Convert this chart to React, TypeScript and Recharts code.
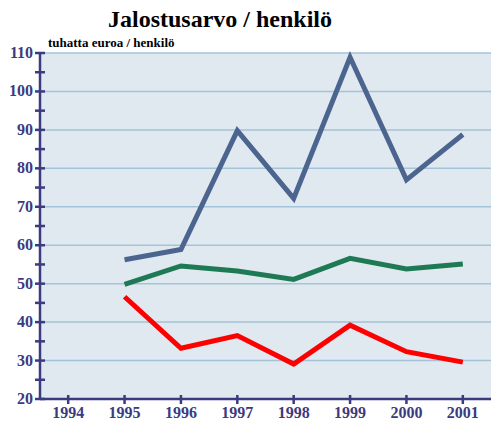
import React from 'react';
import { LineChart, Line, XAxis, YAxis, CartesianGrid } from 'recharts';

// vuodet ja sarjat (luettu kuvasta)
const years = [1995, 1996, 1997, 1998, 1999, 2000, 2001];
const sarjaSininen = [56.2, 58.9, 89.8, 72.2, 108.9, 77.0, 88.8];
const sarjaVihrea = [49.8, 54.6, 53.3, 51.1, 56.6, 53.8, 55.1];
const sarjaPunainen = [46.6, 33.2, 36.5, 29.1, 39.2, 32.3, 29.6];

const xTicks = [1994, 1995, 1996, 1997, 1998, 1999, 2000, 2001];
const yTicks = [20, 25, 30, 35, 40, 45, 50, 55, 60, 65, 70, 75, 80, 85, 90, 95, 100, 105, 110];
const gridValues = [20, 30, 40, 50, 60, 70, 80, 90, 100, 110];

const title = 'Jalostusarvo / henkilö';
const unitLabel = 'tuhatta euroa / henkilö';

const data = years.map((year, i) => ({
  year,
  sininen: sarjaSininen[i],
  vihrea: sarjaVihrea[i],
  punainen: sarjaPunainen[i],
}));

const FONT = "'Liberation Serif', 'Times New Roman', 'DejaVu Serif', serif";
const AXIS = '#3b3b80';
const textStyle = { fontFamily: FONT, fontWeight: 700 };

function YTick(props: any) {
  const { x, y, payload } = props;
  const major = payload.value % 10 === 0;
  return (
    <g>
      <line x1={x - 5} x2={x + 5} y1={y} y2={y} stroke={AXIS} strokeWidth={2.5} />
      {major && (
        <text x={x - 7} y={y} dy={5} textAnchor="end" fill={AXIS}
          style={{ ...textStyle, fontSize: 16 }}>
          {payload.value}
        </text>
      )}
    </g>
  );
}

function XTick(props: any) {
  const { x, y, payload } = props;
  return (
    <g>
      <line x1={x} x2={x} y1={y - 4} y2={y + 5} stroke={AXIS} strokeWidth={2.5} />
      <text x={x} y={y + 19} textAnchor="middle" fill={AXIS}
        style={{ ...textStyle, fontSize: 16 }}>
        {payload.value}
      </text>
    </g>
  );
}

export default function App() {
  return (
    <div style={{ position: 'relative', width: 491, height: 421 }}>
      <style>{'body{margin:0}'}</style>
      <LineChart width={491} height={421} data={data}
        margin={{ top: 53, right: 0, bottom: 0, left: 0 }}>
        <CartesianGrid vertical={false} fill="#e0e8f0" stroke="#a3c3d8"
          strokeWidth={1.5} horizontalValues={gridValues} />
        <XAxis dataKey="year" type="number" domain={[1993.5, 2001.5]} ticks={xTicks}
          height={22} axisLine={{ stroke: AXIS, strokeWidth: 2.5 }} tickLine={false}
          tickSize={0} tickMargin={0} tick={<XTick />} interval={0} />
        <YAxis type="number" domain={[20, 110]} ticks={yTicks} width={40}
          axisLine={{ stroke: AXIS, strokeWidth: 2.5 }} tickLine={false}
          tickSize={0} tickMargin={0} tick={<YTick />} interval={0} />
        <Line dataKey="sininen" type="linear" stroke="#4c658f" strokeWidth={5}
          dot={false} isAnimationActive={false} />
        <Line dataKey="vihrea" type="linear" stroke="#1e7a55" strokeWidth={5}
          dot={false} isAnimationActive={false} />
        <Line dataKey="punainen" type="linear" stroke="#ff0000" strokeWidth={5}
          dot={false} isAnimationActive={false} />
      </LineChart>
      <svg width={491} height={60} style={{ position: 'absolute', left: 0, top: 0, pointerEvents: 'none' }}>
        <text x={220} y={27} textAnchor="middle" fill="#000"
          style={{ ...textStyle, fontSize: 24 }}>{title}</text>
        <text x={48} y={47} fill="#000"
          style={{ ...textStyle, fontSize: 13 }}>{unitLabel}</text>
      </svg>
    </div>
  );
}
